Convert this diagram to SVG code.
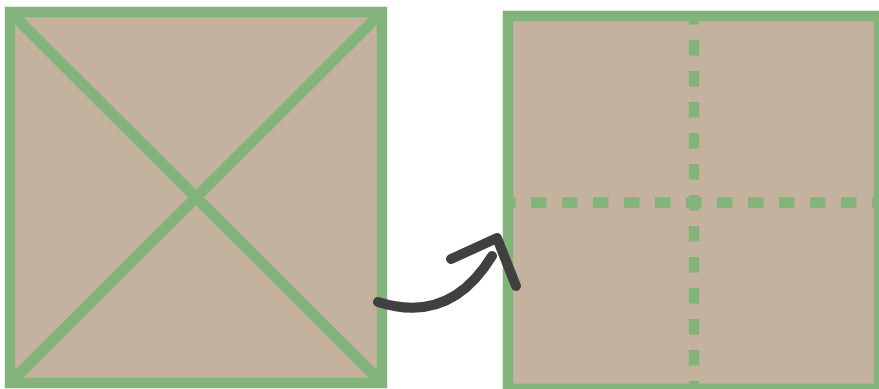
<svg xmlns="http://www.w3.org/2000/svg" width="879" height="389" viewBox="0 0 879 389">
  <style>
    .box { fill: #c4b19e; stroke: #82b37a; stroke-width: 10.5; }
    .diag { stroke: #82b37a; stroke-width: 11; fill: none; }
    .dash { stroke: #82b37a; stroke-width: 10.5; fill: none; stroke-dasharray: 15.5 15.5; }
    .arrow { stroke: #404040; stroke-width: 10; fill: none; stroke-linecap: round; stroke-linejoin: round; }
  </style>
  <rect width="879" height="389" fill="#ffffff"/>
  <g id="left-square">
    <rect class="box" x="10" y="12" width="372" height="371"/>
    <line class="diag" x1="10" y1="12" x2="382" y2="383"/>
    <line class="diag" x1="382" y1="12" x2="10" y2="383"/>
  </g>
  <g id="right-square">
    <rect class="box" x="508" y="16" width="371" height="373"/>
    <line class="dash" x1="508" y1="202.5" x2="879" y2="202.5" stroke-dashoffset="8"/>
    <line class="dash" x1="694" y1="16" x2="694" y2="389" stroke-dashoffset="7"/>
  </g>
  <g id="connectors">
    <path class="arrow" d="M378 302 Q450 325 492 256"/>
    <path class="arrow" d="M451 259 L497 238 L516 286"/>
  </g>
</svg>
